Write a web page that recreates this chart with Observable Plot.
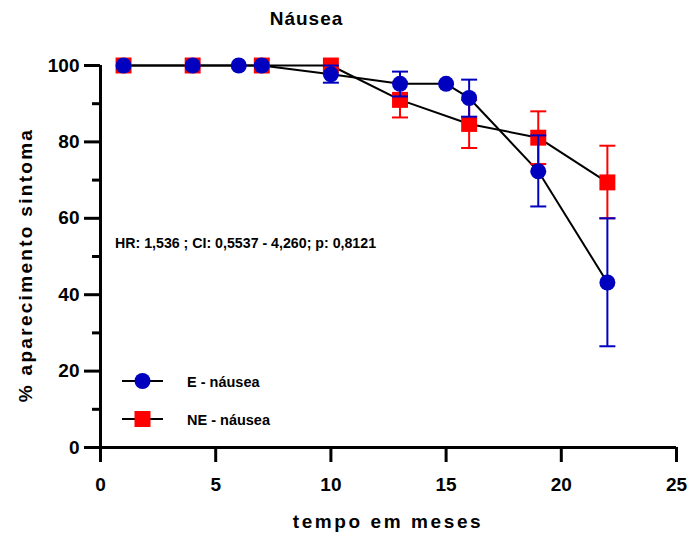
<!DOCTYPE html>
<html>
<head>
<meta charset="utf-8">
<script src="https://cdn.jsdelivr.net/npm/d3@7"></script>
<script src="https://cdn.jsdelivr.net/npm/@observablehq/plot@0.6"></script>
<style>
  body { margin: 0; background: white; }
  #chart { width: 690px; height: 537px; }
</style>
</head>
<body>
<div id="chart"></div>
<script>
// ---- data ----
const monthsE = [1, 4, 6, 7, 10, 13, 15, 16, 19, 22];
const pctE    = [100, 100, 100, 100, 97.7, 95.2, 95.2, 91.5, 72.3, 43.2];
const loE     = [null, null, null, null, 95.5, 91.9, null, 86.6, 63.1, 26.5];
const hiE     = [null, null, null, null, 100, 98.4, null, 96.3, 81.7, 60.0];

const monthsNE = [1, 4, 7, 10, 13, 16, 19, 22];
const pctNE    = [100, 100, 100, 100, 91.0, 84.7, 81.1, 69.4];
const loNE     = [null, null, null, null, 86.4, 78.4, 74.2, 60.0];
const hiNE     = [null, null, null, null, 95.6, 91.0, 88.0, 79.0];

const xTicks = [0, 5, 10, 15, 20, 25];
const yTicks = [0, 20, 40, 60, 80, 100];
const yMinorTicks = [10, 30, 50, 70, 90];

const titleText = "Náusea";
const xLabel = "tempo em meses";
const yLabel = "% aparecimento sintoma";
const statsText = "HR: 1,536 ; CI: 0,5537 - 4,260; p: 0,8121";
const seriesNames = ["E - náusea", "NE - náusea"];

const BLUE = "#0000BF";
const RED = "#FF0000";

const rowsE = monthsE.map((m, i) => ({m, v: pctE[i], lo: loE[i], hi: hiE[i]}));
const rowsNE = monthsNE.map((m, i) => ({m, v: pctNE[i], lo: loNE[i], hi: hiNE[i]}));
const errE = rowsE.filter(d => d.lo != null);
const errNE = rowsNE.filter(d => d.lo != null);

// horizontal cap symbol: half-width equals r
const capSymbol = {
  draw(ctx, size) {
    const h = Math.sqrt(size / Math.PI);
    ctx.moveTo(-h, 0);
    ctx.lineTo(h, 0);
  }
};

const FONT = "'Liberation Sans', Arial, sans-serif";

const plot = Plot.plot({
  width: 690,
  height: 537,
  marginLeft: 100,
  marginRight: 14,
  marginTop: 65,
  marginBottom: 90,
  style: {fontFamily: FONT, fontWeight: "bold", background: "white", color: "black", overflow: "visible"},
  x: {domain: [0, 25]},
  y: {domain: [0, 100]},
  marks: [
    Plot.axisX({ticks: xTicks, tickSize: 15, tickPadding: 15, strokeWidth: 3, fontSize: 19, fontWeight: "bold", label: null}),
    Plot.axisY({ticks: yTicks, tickSize: 16, tickPadding: 5, strokeWidth: 3, fontSize: 19, fontWeight: "bold", label: null}),
    Plot.axisY({ticks: yMinorTicks, tickSize: 8, strokeWidth: 3, text: null, label: null}),
    Plot.ruleY([0], {stroke: "black", strokeWidth: 3}),
    Plot.ruleX([0], {stroke: "black", strokeWidth: 3}),
    // connecting lines
    Plot.line(rowsNE, {x: "m", y: "v", stroke: "black", strokeWidth: 2}),
    Plot.line(rowsE, {x: "m", y: "v", stroke: "black", strokeWidth: 2}),
    // NE error bars + squares
    Plot.ruleX(errNE, {x: "m", y1: "lo", y2: "hi", stroke: RED, strokeWidth: 2}),
    Plot.dot(errNE, {x: "m", y: "hi", symbol: capSymbol, r: 8, stroke: RED, strokeWidth: 2, fill: "none"}),
    Plot.dot(errNE, {x: "m", y: "lo", symbol: capSymbol, r: 8, stroke: RED, strokeWidth: 2, fill: "none"}),
    Plot.dot(rowsNE, {x: "m", y: "v", symbol: "square", r: 9, fill: RED, stroke: "none"}),
    // E error bars + circles
    Plot.ruleX(errE, {x: "m", y1: "lo", y2: "hi", stroke: BLUE, strokeWidth: 2}),
    Plot.dot(errE, {x: "m", y: "hi", symbol: capSymbol, r: 8, stroke: BLUE, strokeWidth: 2, fill: "none"}),
    Plot.dot(errE, {x: "m", y: "lo", symbol: capSymbol, r: 8, stroke: BLUE, strokeWidth: 2, fill: "none"}),
    Plot.dot(rowsE, {x: "m", y: "v", symbol: "circle", r: 8, fill: BLUE, stroke: "none"})
  ]
});

document.getElementById("chart").appendChild(plot);

// ---- text and legend overlays ----
const svg = d3.select(plot);
const g = svg.append("g").attr("font-family", FONT).attr("font-weight", "bold").attr("fill", "black");

g.append("text").attr("x", 306.5).attr("y", 25).attr("text-anchor", "middle")
  .attr("font-size", 19).attr("letter-spacing", 1).text(titleText);

g.append("text").attr("x", 388).attr("y", 528).attr("text-anchor", "middle")
  .attr("font-size", 19).attr("letter-spacing", 2.6).text(xLabel);

g.append("text").attr("transform", "translate(32,265) rotate(-90)").attr("text-anchor", "middle")
  .attr("font-size", 19).attr("letter-spacing", 2.3).text(yLabel);

g.append("text").attr("x", 115).attr("y", 248).attr("text-anchor", "start")
  .attr("font-size", 14.2).text(statsText);

// legend
const leg = svg.append("g");
[[381, BLUE, "circle"], [419, RED, "square"]].forEach(([yy, col, sym], i) => {
  leg.append("line").attr("x1", 122).attr("x2", 163).attr("y1", yy).attr("y2", yy)
    .attr("stroke", "black").attr("stroke-width", 2);
  if (sym === "circle") {
    leg.append("circle").attr("cx", 142.5).attr("cy", yy).attr("r", 8).attr("fill", col);
  } else {
    leg.append("rect").attr("x", 134.5).attr("y", yy - 8).attr("width", 16).attr("height", 16).attr("fill", col);
  }
  leg.append("text").attr("x", 187).attr("y", yy + 5.5).attr("text-anchor", "start")
    .attr("font-family", FONT).attr("font-weight", "bold")
    .attr("font-size", 14.5).attr("fill", "black").text(seriesNames[i]);
});
</script>
</body>
</html>
